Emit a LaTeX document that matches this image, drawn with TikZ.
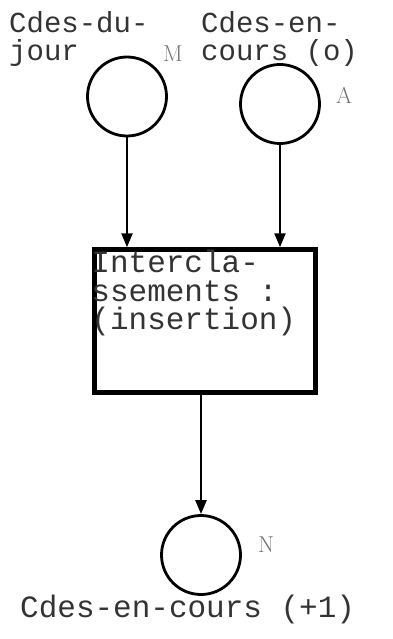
\documentclass[tikz,border=0pt]{standalone}
\usepackage{fontspec}
\setmonofont{Liberation Mono}
\usetikzlibrary{arrows.meta, positioning}

\begin{document}
\begin{tikzpicture}[
      x=1pt, y=-1pt,
      place/.style={draw, circle, line width=2.8pt, minimum size=79pt, inner sep=0pt},
      proc/.style={draw, line width=4.5pt, minimum width=221pt, minimum height=143pt},
      txt/.style={font=\fontsize{31}{28.5}\selectfont\ttfamily, text=black!80,
                  align=left, inner sep=0pt},
      toptxt/.style={txt, font=\fontsize{29}{28}\selectfont\ttfamily},
      tag/.style={font=\fontsize{23}{23}\selectfont, text=black!55, inner sep=0pt},
      arr/.style={-{Triangle[length=14pt, width=11pt]}, line width=2.4pt}
    ]
    \useasboundingbox (0,0) rectangle (393,639);

    \node[place] (jour) at (127,96.5) {};
    \node[place] (encours) at (280,104) {};
    \node[proc] (intercl) at (205,321) {};
    \node[place] (suivant) at (201,555) {};

    \node[toptxt, anchor=north west] (ljour) at (9,11) {Cdes-du-\\jour};
    \node[toptxt, anchor=north west] (lencours) at (201,11) {Cdes-en-\\cours (o)};
    \node[txt, below right=3pt and -1pt of intercl.north west] (lintercl)
      {Intercla-\\ssements :\\(insertion)};
    \node[txt, anchor=north west] (lsuivant) at (20,595) {Cdes-en-cours (+1)};

    \node[tag, anchor=base west] (tm) at (163,62) {M};
    \node[tag, anchor=base west] (ta) at (336,104) {A};
    \node[tag, anchor=base west] (tn) at (258,552) {N};

    \draw[arr] (jour)    -- (jour |- intercl.north);
    \draw[arr] (encours) -- (encours |- intercl.north);
    \draw[arr] (intercl.south -| suivant) -- (suivant);
  \end{tikzpicture}
\end{document}
